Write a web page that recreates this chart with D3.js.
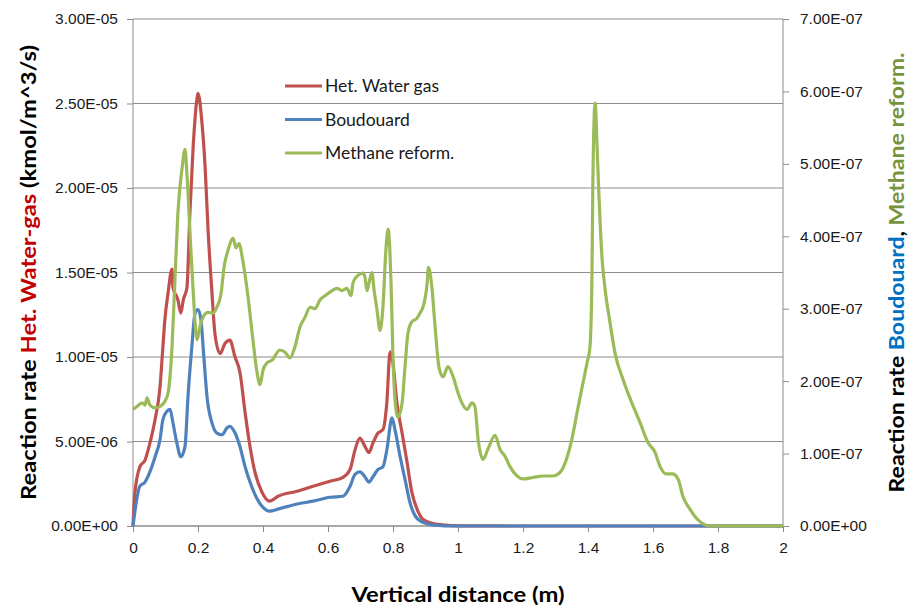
<!DOCTYPE html>
<html>
<head>
<meta charset="utf-8">
<script src="https://cdn.jsdelivr.net/npm/d3@7"></script>
<style>
  body { margin: 0; background: #fff; }
  svg { font-family: Lato, "Open Sans", sans-serif; }
</style>
</head>
<body>
<script>
// values: [distance (m), rate]
// left axis series in units of 1E-06, right axis series in units of 1E-07
var LEFT_UNIT = 1e-6, RIGHT_UNIT = 1e-7;

var hwgData = [[0,0],[0.005,1.8],[0.021,3.5],[0.037,3.9],[0.052,4.9],[0.068,6.3],[0.083,8.2],[0.092,10.6],
  [0.098,12.2],[0.108,13.8],[0.12,15.2],[0.123,14.1],[0.138,13.4],[0.147,12.6],[0.155,13.4],[0.166,14.1],
  [0.175,18.5],[0.185,22.4],[0.197,25.3],[0.2,25.6],[0.212,23.9],[0.222,21.2],[0.231,17.5],[0.243,13.8],
  [0.252,11.4],[0.268,10.2],[0.283,10.8],[0.298,11.0],[0.314,10.0],[0.329,9.1],[0.345,6.7],[0.36,4.7],
  [0.375,3.2],[0.397,2.0],[0.42,1.47],[0.446,1.76],[0.505,2.06],[0.554,2.35],[0.606,2.65],[0.646,2.88],
  [0.668,3.35],[0.683,4.5],[0.698,5.2],[0.714,4.7],[0.726,4.35],[0.738,4.9],[0.754,5.5],[0.769,5.7],
  [0.781,7.3],[0.791,10.3],[0.8,9.6],[0.812,7.3],[0.828,5.5],[0.843,3.8],[0.858,2.0],[0.874,1.0],
  [0.892,0.4],[0.923,0.15],[0.96,0.05],[1.0,0.01],[1.2,0],[1.5,0],[1.8,0],[2.0,0]];

var boudData = [[0,0],[0.021,2.35],[0.037,2.6],[0.052,3.2],[0.068,4.1],[0.083,5.1],[0.092,6.3],[0.105,6.8],
  [0.114,6.9],[0.123,6.1],[0.135,4.9],[0.147,4.1],[0.16,4.7],[0.169,7.6],[0.181,10.6],[0.191,12.6],
  [0.2,12.8],[0.209,12.2],[0.218,10.0],[0.228,7.6],[0.243,6.1],[0.258,5.5],[0.274,5.4],[0.289,5.8],
  [0.298,5.9],[0.314,5.5],[0.329,4.7],[0.345,3.5],[0.36,2.6],[0.382,1.6],[0.4,1.1],[0.42,0.88],
  [0.446,1.0],[0.505,1.3],[0.554,1.47],[0.606,1.7],[0.646,1.76],[0.668,2.35],[0.683,3.06],[0.698,3.2],
  [0.714,2.9],[0.726,2.6],[0.738,2.9],[0.754,3.35],[0.769,3.5],[0.781,4.5],[0.797,6.4],[0.806,5.7],
  [0.822,4.1],[0.837,2.76],[0.852,1.4],[0.868,0.6],[0.889,0.24],[0.923,0.06],[0.96,0.01],[1.0,0],
  [1.5,0],[2.0,0]];

var methData = [[0,1.61],[0.012,1.65],[0.028,1.70],[0.037,1.67],[0.043,1.77],[0.052,1.67],[0.068,1.63],
  [0.083,1.65],[0.098,1.72],[0.108,1.84],[0.12,2.47],[0.129,3.39],[0.138,4.31],[0.151,4.94],[0.16,5.2],
  [0.166,4.86],[0.175,4.08],[0.185,3.25],[0.197,2.57],[0.206,2.75],[0.215,2.88],[0.231,2.95],[0.246,2.94],
  [0.258,3.02],[0.271,3.21],[0.28,3.57],[0.292,3.8],[0.308,3.97],[0.317,3.84],[0.326,3.9],[0.338,3.66],
  [0.354,3.16],[0.369,2.57],[0.382,2.11],[0.391,1.95],[0.4,2.15],[0.412,2.25],[0.428,2.29],[0.452,2.43],
  [0.468,2.4],[0.483,2.32],[0.498,2.47],[0.514,2.75],[0.529,2.88],[0.545,3.02],[0.56,3.0],[0.575,3.12],
  [0.591,3.18],[0.606,3.23],[0.628,3.28],[0.643,3.25],[0.658,3.28],[0.671,3.18],[0.677,3.36],[0.692,3.46],
  [0.708,3.49],[0.714,3.43],[0.72,3.25],[0.726,3.35],[0.735,3.5],[0.742,3.25],[0.751,2.98],[0.76,2.7],
  [0.769,3.02],[0.778,3.8],[0.785,4.1],[0.794,3.35],[0.8,2.33],[0.809,1.61],[0.815,1.5],[0.828,1.7],
  [0.837,2.2],[0.846,2.66],[0.858,2.82],[0.874,2.87],[0.883,2.94],[0.892,3.02],[0.905,3.35],[0.909,3.57],
  [0.92,3.28],[0.929,2.78],[0.942,2.18],[0.954,2.06],[0.969,2.2],[0.985,2.06],[1.0,1.84],[1.012,1.7],
  [1.028,1.61],[1.043,1.7],[1.052,1.65],[1.062,1.19],[1.077,0.92],[1.092,1.06],[1.114,1.25],[1.129,1.06],
  [1.145,0.96],[1.16,0.82],[1.182,0.69],[1.2,0.65],[1.231,0.67],[1.262,0.69],[1.292,0.69],[1.314,0.74],
  [1.335,0.94],[1.351,1.21],[1.366,1.56],[1.382,1.92],[1.397,2.25],[1.406,2.47],[1.412,3.39],[1.415,4.76],
  [1.422,5.84],[1.428,5.22],[1.434,4.53],[1.443,3.71],[1.452,3.29],[1.468,2.8],[1.483,2.39],[1.508,2.02],
  [1.535,1.7],[1.56,1.43],[1.585,1.15],[1.606,1.02],[1.622,0.82],[1.64,0.72],[1.66,0.72],[1.677,0.65],
  [1.692,0.41],[1.714,0.23],[1.735,0.1],[1.754,0.03],[1.775,0],[1.8,0],[2.0,0]];

var xTicks = [0,0.2,0.4,0.6,0.8,1,1.2,1.4,1.6,1.8,2];
var leftTicks = [0,5e-6,1e-5,1.5e-5,2e-5,2.5e-5,3e-5];
var rightTicks = [0,1e-7,2e-7,3e-7,4e-7,5e-7,6e-7,7e-7];
var seriesNames = ["Het. Water gas","Boudouard","Methane reform."];
var seriesColors = ["#C0504D","#4F81BD","#9BBB59"];

var W = 909, H = 609;
var m = {left:133, right:126, top:19, bottom:83};
var iw = W - m.left - m.right, ih = H - m.top - m.bottom;

var svg = d3.select("body").append("svg").attr("width",W).attr("height",H);
var g = svg.append("g").attr("transform","translate("+m.left+","+m.top+")");

var x = d3.scaleLinear().domain([0,2]).range([0,iw]);
var yL = d3.scaleLinear().domain([0,3e-5]).range([ih,0]);
var yR = d3.scaleLinear().domain([0,7e-7]).range([ih,0]);

// 3.00E-05 style labels
function sci(v){
  if (Math.abs(v) < 1e-20) return "0.00E+00";
  var p = v.toExponential(2).split("e");
  var e = +p[1];
  return p[0] + "E" + (e<0?"-":"+") + String(Math.abs(e)).padStart(2,"0");
}

var grey = "#8c8c8c";

// gridlines (left axis ticks)
g.selectAll("line.grid").data(leftTicks).enter().append("line")
  .attr("class","grid")
  .attr("x1",0).attr("x2",iw)
  .attr("y1",function(d){return yL(d);}).attr("y2",function(d){return yL(d);})
  .attr("stroke",grey).attr("stroke-width",1);

var xAxis = d3.axisBottom(x).tickValues(xTicks).tickSize(6).tickPadding(10)
  .tickFormat(function(d){return String(d);});
var lAxis = d3.axisLeft(yL).tickValues(leftTicks).tickSize(6).tickPadding(9).tickFormat(sci);
var rAxis = d3.axisRight(yR).tickValues(rightTicks).tickSize(6).tickPadding(11).tickFormat(sci);

function styleAxis(sel){
  sel.select(".domain").attr("stroke",grey);
  sel.selectAll(".tick line").attr("stroke",grey);
  sel.selectAll(".tick text").attr("fill","#1a1a1a").style("font-size","15.5px");
}
g.append("g").attr("transform","translate(0,"+ih+")").call(xAxis).call(styleAxis)
  .call(function(s){ s.select(".domain").attr("d","M0,0H"+iw); });
g.append("g").call(lAxis).call(styleAxis)
  .call(function(s){ s.select(".domain").attr("d","M0,"+ih+"V0"); });
g.append("g").attr("transform","translate("+iw+",0)").call(rAxis).call(styleAxis)
  .call(function(s){ s.select(".domain").attr("d","M0,"+ih+"V0"); });

// series
var lineL = d3.line().x(function(d){return x(d[0]);}).y(function(d){return yL(d[1]*LEFT_UNIT);})
  .curve(d3.curveMonotoneX);
var lineR = d3.line().x(function(d){return x(d[0]);}).y(function(d){return yR(d[1]*RIGHT_UNIT);})
  .curve(d3.curveMonotoneX);

g.append("path").attr("d",lineL(hwgData)).attr("fill","none")
  .attr("stroke",seriesColors[0]).attr("stroke-width",3.2).attr("stroke-linejoin","round");
g.append("path").attr("d",lineL(boudData)).attr("fill","none")
  .attr("stroke",seriesColors[1]).attr("stroke-width",3.2).attr("stroke-linejoin","round");
g.append("path").attr("d",lineR(methData)).attr("fill","none")
  .attr("stroke",seriesColors[2]).attr("stroke-width",3.2).attr("stroke-linejoin","round");

// legend
var leg = svg.append("g").attr("transform","translate(285,86)");
seriesNames.forEach(function(n,i){
  var row = leg.append("g").attr("transform","translate(0,"+(i*33.5)+")");
  row.append("line").attr("x1",0).attr("x2",37).attr("y1",0).attr("y2",0)
    .attr("stroke",seriesColors[i]).attr("stroke-width",3.2);
  row.append("text").attr("x",40).attr("y",6).text(n)
    .style("font-size","17.5px").attr("fill","#1a1a1a");
});

// axis titles
var tl = svg.append("text").attr("transform","translate(36,"+(m.top+ih/2)+") rotate(-90)")
  .attr("text-anchor","middle").attr("textLength",455).attr("lengthAdjust","spacingAndGlyphs")
  .style("font-size","21px").style("font-weight","bold");
tl.append("tspan").text("Reaction rate ");
tl.append("tspan").attr("fill","#C00000").text("Het. Water-gas");
tl.append("tspan").text(" (kmol/m^3/s)");

var tr = svg.append("text").attr("transform","translate(904,"+(m.top+ih/2)+") rotate(-90)")
  .attr("text-anchor","middle").attr("textLength",440).attr("lengthAdjust","spacingAndGlyphs")
  .style("font-size","21px").style("font-weight","bold");
tr.append("tspan").text("Reaction rate ");
tr.append("tspan").attr("fill","#0070C0").text("Boudouard");
tr.append("tspan").text(", ");
tr.append("tspan").attr("fill","#77933C").text("Methane reform.");

svg.append("text").attr("x",m.left+iw/2).attr("y",602).attr("text-anchor","middle")
  .attr("textLength",213).attr("lengthAdjust","spacingAndGlyphs")
  .style("font-size","21px").style("font-weight","bold").text("Vertical distance (m)");
</script>
</body>
</html>
